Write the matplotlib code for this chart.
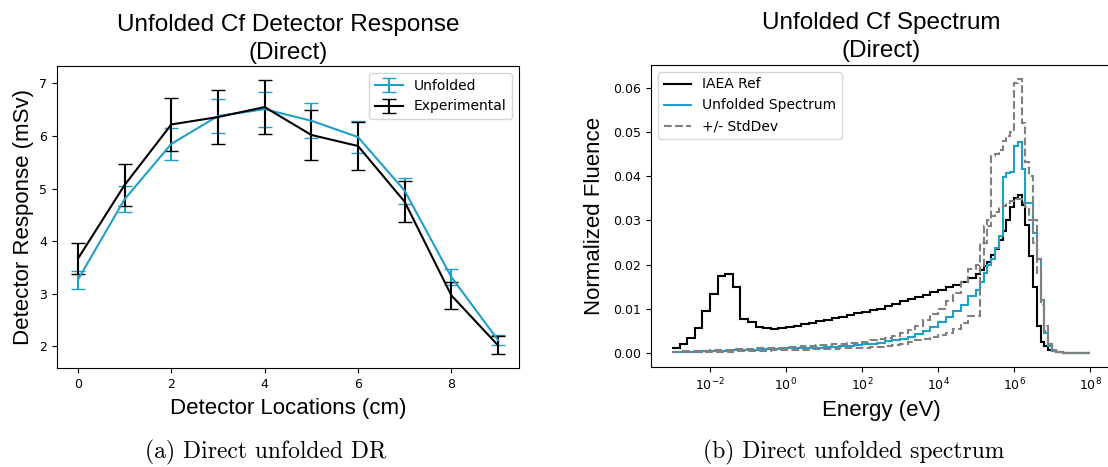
import numpy as np
import matplotlib
matplotlib.use("Agg")
import matplotlib.pyplot as plt
from matplotlib.ticker import NullLocator

# ---------------- Data: detector response ----------------
locations = [0, 1, 2, 3, 4, 5, 6, 7, 8, 9]
unfolded_dr = [3.27, 4.80, 5.85, 6.38, 6.51, 6.29, 5.98, 4.96, 3.32, 2.12]
unfolded_err = [0.17, 0.25, 0.30, 0.33, 0.33, 0.33, 0.30, 0.25, 0.16, 0.10]
experimental_dr = [3.67, 5.07, 6.22, 6.36, 6.55, 6.02, 5.81, 4.75, 2.97, 2.02]
experimental_err = [0.30, 0.40, 0.50, 0.51, 0.52, 0.48, 0.46, 0.39, 0.25, 0.17]

# ---------------- Data: spectrum (group structure) ----------------
edges_low = np.logspace(-3, 5, 41)          # 5 groups per decade up to 100 keV
edges_high = np.logspace(5, 8, 31)[1:]      # 10 groups per decade above
energy_edges = np.concatenate([edges_low, edges_high])

iaea_ref = [
    0.0012, 0.0021, 0.0035, 0.0057, 0.0095, 0.0134, 0.0174, 0.0180, 0.0149, 0.0078,
    0.0070, 0.0060, 0.0057, 0.0055, 0.0057, 0.0059, 0.0062, 0.0065, 0.0069, 0.0072,
    0.0076, 0.0080, 0.0083, 0.0087, 0.0090, 0.0094, 0.0098, 0.0101, 0.0106, 0.0111,
    0.0117, 0.0122, 0.0127, 0.0132, 0.0138, 0.0143, 0.0149, 0.0155, 0.0162, 0.0171,
    0.0178, 0.0188, 0.0197, 0.0206, 0.0221, 0.0235, 0.0255, 0.0275, 0.0300, 0.0330,
    0.0350, 0.0358, 0.0335, 0.0290, 0.0220, 0.0150, 0.0061, 0.0025, 0.0016, 0.0008,
    0.0005, 0.0003, 0.0002, 0.0001, 0.0001, 0.0000, 0.0000, 0.0000, 0.0000, 0.0000,
]
unfolded_spec = [
    0.0003, 0.0003, 0.0004, 0.0004, 0.0005, 0.0005, 0.0006, 0.0006, 0.0007, 0.0007,
    0.0008, 0.0008, 0.0009, 0.0009, 0.0010, 0.0011, 0.0011, 0.0012, 0.0013, 0.0013,
    0.0014, 0.0015, 0.0016, 0.0017, 0.0018, 0.0020, 0.0022, 0.0024, 0.0027, 0.0030,
    0.0033, 0.0037, 0.0043, 0.0051, 0.0060, 0.0070, 0.0083, 0.0095, 0.0110, 0.0130,
    0.0144, 0.0160, 0.0182, 0.0200, 0.0212, 0.0238, 0.0265, 0.0397, 0.0408, 0.0410,
    0.0468, 0.0476, 0.0416, 0.0340, 0.0340, 0.0272, 0.0212, 0.0121, 0.0046, 0.0016,
    0.0006, 0.0003, 0.0002, 0.0001, 0.0001, 0.0000, 0.0000, 0.0000, 0.0000, 0.0000,
]
upper_spec = [
    0.0004, 0.0005, 0.0005, 0.0006, 0.0006, 0.0007, 0.0007, 0.0008, 0.0009, 0.0009,
    0.0010, 0.0011, 0.0011, 0.0012, 0.0013, 0.0014, 0.0015, 0.0016, 0.0017, 0.0018,
    0.0019, 0.0020, 0.0021, 0.0023, 0.0024, 0.0026, 0.0029, 0.0032, 0.0035, 0.0040,
    0.0046, 0.0053, 0.0062, 0.0075, 0.0088, 0.0100, 0.0118, 0.0135, 0.0160, 0.0190,
    0.0200, 0.0250, 0.0287, 0.0300, 0.0446, 0.0450, 0.0460, 0.0480, 0.0490, 0.0499,
    0.0610, 0.0620, 0.0521, 0.0431, 0.0400, 0.0300, 0.0212, 0.0120, 0.0061, 0.0020,
    0.0008, 0.0004, 0.0002, 0.0001, 0.0001, 0.0000, 0.0000, 0.0000, 0.0000, 0.0000,
]
lower_spec = [
    0.0002, 0.0002, 0.0003, 0.0003, 0.0003, 0.0004, 0.0004, 0.0004, 0.0005, 0.0005,
    0.0005, 0.0006, 0.0006, 0.0007, 0.0007, 0.0008, 0.0008, 0.0008, 0.0009, 0.0009,
    0.0010, 0.0010, 0.0011, 0.0011, 0.0012, 0.0013, 0.0014, 0.0015, 0.0017, 0.0019,
    0.0022, 0.0025, 0.0029, 0.0033, 0.0037, 0.0041, 0.0046, 0.0055, 0.0068, 0.0084,
    0.0084, 0.0197, 0.0250, 0.0287, 0.0310, 0.0320, 0.0330, 0.0333, 0.0340, 0.0345,
    0.0348, 0.0348, 0.0340, 0.0330, 0.0300, 0.0250, 0.0180, 0.0110, 0.0050, 0.0020,
    0.0008, 0.0004, 0.0002, 0.0001, 0.0001, 0.0000, 0.0000, 0.0000, 0.0000, 0.0000,
]

BLUE = "#1f9fcb"
TITLE_FONT = ["Liberation Sans", "DejaVu Sans"]

W, H = 1108, 467
fig = plt.figure(figsize=(W / 100, H / 100), dpi=100)

def px_axes(x0, y0, x1, y1):
    return fig.add_axes([x0 / W, 1 - y1 / H, (x1 - x0) / W, (y1 - y0) / H])

# ---------------- Left panel ----------------
ax1 = px_axes(57, 66, 519, 368)
ax1.errorbar(locations, unfolded_dr, yerr=unfolded_err, color=BLUE, capsize=5,
             lw=1.5, label="Unfolded")
ax1.errorbar(locations, experimental_dr, yerr=experimental_err, color="black",
             capsize=5, lw=1.5, label="Experimental")
ax1.set_xticks([0, 2, 4, 6, 8])
ax1.set_yticks([2, 3, 4, 5, 6, 7])
ax1.tick_params(labelsize=9)
ax1.set_title("Unfolded Cf Detector Response\n(Direct)", family=TITLE_FONT,
              fontsize=17.5, linespacing=1.35, pad=5)
ax1.set_xlabel("Detector Locations (cm)", family=TITLE_FONT, fontsize=16, labelpad=5)
ax1.set_ylabel("Detector Response (mSv)", family=TITLE_FONT, fontsize=16, labelpad=4)
ax1.legend(loc="upper right", fontsize=10, handlelength=2.0)

# ---------------- Right panel ----------------
ax2 = px_axes(651, 65, 1111, 367)
ax2.stairs(iaea_ref, energy_edges, color="black", lw=1.5, baseline=None, label="IAEA Ref")
ax2.stairs(unfolded_spec, energy_edges, color=BLUE, lw=1.5, baseline=None,
           label="Unfolded Spectrum")
ax2.stairs(upper_spec, energy_edges, color="gray", lw=1.5, ls="--", baseline=None,
           label="+/- StdDev")
ax2.stairs(lower_spec, energy_edges, color="gray", lw=1.5, ls="--", baseline=None)
ax2.set_xscale("log")
ax2.margins(x=0.05, y=0.05)
ax2.set_xticks([1e-2, 1e0, 1e2, 1e4, 1e6, 1e8])
ax2.xaxis.set_minor_locator(NullLocator())
ax2.set_yticks([0.0, 0.01, 0.02, 0.03, 0.04, 0.05, 0.06])
ax2.tick_params(labelsize=9)
ax2.set_title("Unfolded Cf Spectrum\n(Direct)", family=TITLE_FONT, fontsize=17.5,
              linespacing=1.35, pad=6)
ax2.set_xlabel("Energy (eV)", family=TITLE_FONT, fontsize=16, labelpad=5)
ax2.set_ylabel("Normalized Fluence", family=TITLE_FONT, fontsize=16, labelpad=6)
ax2.legend(loc="upper left", fontsize=10, handlelength=2.0)

# ---------------- Captions ----------------
fig.text(266 / W, 1 - 452 / H, "(a) Direct unfolded DR", family="cmr10",
         fontsize=17, ha="center", va="center")
fig.text(854 / W, 1 - 452 / H, "(b) Direct unfolded spectrum", family="cmr10",
         fontsize=17, ha="center", va="center")

fig.savefig("out.png", dpi=100)
